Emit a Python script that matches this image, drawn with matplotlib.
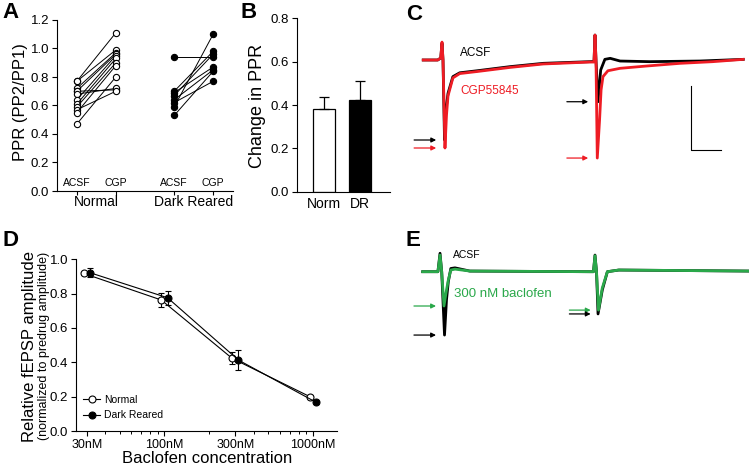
import numpy as np
import matplotlib
matplotlib.use("Agg")
import matplotlib.pyplot as plt
from matplotlib.lines import Line2D

plt.rcParams['font.family'] = ['Liberation Sans', 'DejaVu Sans']
plt.rcParams['axes.linewidth'] = 0.8
plt.rcParams['xtick.major.width'] = 0.8
plt.rcParams['ytick.major.width'] = 0.8

# ---- A: paired-pulse ratio, ACSF vs CGP55845 ----
norm_acsf = [0.77, 0.77, 0.72, 0.70, 0.70, 0.68, 0.64, 0.61, 0.59, 0.57, 0.55, 0.47]
norm_cgp = [1.11, 0.99, 0.97, 0.71, 0.96, 0.72, 0.95, 0.93, 0.90, 0.70, 0.88, 0.80]
dark_acsf = [0.94, 0.70, 0.69, 0.67, 0.64, 0.62, 0.59, 0.53]
dark_cgp = [0.94, 0.98, 0.87, 0.96, 0.85, 0.77, 1.10, 0.84]

# ---- B: change in PPR ----
b_groups = ['Norm', 'DR']
b_means = [0.38, 0.425]
b_sem = [0.058, 0.087]
b_colors = ['white', 'black']

# ---- D: baclofen dose response ----
conc_nm = [30, 100, 300, 1000]
conc_labels = ['30nM', '100nM', '300nM', '1000nM']
d_normal = [0.918, 0.763, 0.423, 0.200]
d_normal_err = [0.010, 0.040, 0.035, 0.012]
d_dark = [0.922, 0.776, 0.413, 0.167]
d_dark_err = [0.026, 0.040, 0.058, 0.008]

# ---- C / E: example fEPSP traces (time in ms, amplitude in mV) ----
c_t_black = [-26, -7, -3, -1.3, 0, 2.0, 3.9, 6.6, 13, 22, 45, 88, 132, 193, 198.7, 200, 201.3, 203.9, 207.5, 213, 220, 233, 272, 338, 395]
c_v_black = [0.0, 0.0, 0.015, 0.13, 0.0, -0.625, -0.39, -0.26, -0.13, -0.10, -0.084, -0.052, -0.026, -0.013, -0.012, 0.195, 0.0, -0.326, -0.078, 0.005, 0.013, -0.008, -0.013, -0.008, 0.005]
c_t_red = [-26, -7, -3, -1.3, 0, 2.6, 4.6, 6.6, 13, 22, 45, 88, 132, 193, 198.7, 200, 201.3, 203.0, 206, 208, 210.5, 217, 233, 268, 312, 355, 395]
c_v_red = [0.0, 0.0, 0.015, 0.14, 0.0, -0.6875, -0.43, -0.28, -0.14, -0.106, -0.09, -0.058, -0.031, -0.016, -0.016, 0.195, 0.0, -0.766, -0.47, -0.234, -0.13, -0.084, -0.065, -0.047, -0.026, -0.013, 0.005]

e_t_black = [-25, -5, -2.2, 0, 3.7, 6.3, 8.7, 12, 17.5, 37, 195, 199.7, 201.7, 203.7, 205.7, 211.3, 218, 233, 403]
e_v_black = [0.0, 0.0, 0.144, 0.0, -0.495, -0.22, -0.078, 0.025, 0.03, 0.005, 0.0, 0.0, 0.13, 0.0, -0.33, -0.143, 0.0, 0.013, 0.005]
e_t_green = [-25, -5, -2.2, 0, 3.0, 6.3, 8.7, 12, 17.5, 37, 195, 199.7, 201.7, 203.7, 206.3, 211.3, 218, 233, 403]
e_v_green = [0.0, 0.0, 0.13, 0.0, -0.268, -0.143, -0.065, 0.013, 0.02, 0.005, 0.0, 0.0, 0.125, 0.0, -0.30, -0.127, 0.0, 0.013, 0.005]

RED = '#ee1c24'
GREEN = '#2aa84a'

W, H = 749, 469
fig = plt.figure(figsize=(W / 100, H / 100), dpi=100)


def rect(left, top, right, bottom):
    # pixel box -> figure fraction
    return [left / W, 1 - bottom / H, (right - left) / W, (bottom - top) / H]


def ftext(x, y, s, **kw):
    fig.text(x / W, 1 - y / H, s, **kw)


def clean(ax):
    ax.spines['top'].set_visible(False)
    ax.spines['right'].set_visible(False)


# ---------- A ----------
axA = fig.add_axes(rect(57, 20, 233, 191))
clean(axA)
for a, c in zip(norm_acsf, norm_cgp):
    axA.plot([1, 2], [a, c], '-o', color='black', mfc='white', ms=4.5, mew=0.8, lw=0.7)
for a, c in zip(dark_acsf, dark_cgp):
    axA.plot([3.5, 4.5], [a, c], '-o', color='black', mfc='black', ms=4.5, mew=0.8, lw=0.7)
axA.set_xlim(0.49, 5.01)
axA.set_ylim(0, 1.2)
axA.set_yticks(np.arange(0, 1.21, 0.2))
axA.tick_params(axis='y', labelsize=9.5, length=3.5, pad=2)
axA.set_xticks([1, 2, 3.5, 4.5])
axA.set_xticklabels([])
axA.tick_params(axis='x', length=3)
for xp, lab in zip([1, 2, 3.5, 4.5], ['ACSF', 'CGP', 'ACSF', 'CGP']):
    axA.text(xp, 0.02, lab, fontsize=7.5, ha='center', va='bottom')
xtr = axA.get_xaxis_transform()
axA.text(1.5, -0.065, 'Normal', fontsize=10, ha='center', va='center', transform=xtr)
axA.text(4.0, -0.065, 'Dark Reared', fontsize=10, ha='center', va='center', transform=xtr)
ftext(20.5, 102, 'PPR (PP2/PP1)', fontsize=12, rotation=90, ha='center', va='center')

# ---------- B ----------
axB = fig.add_axes(rect(297, 18.3, 390, 191.7))
clean(axB)
xb = np.arange(len(b_groups))
axB.bar(xb, b_means, width=0.62, color=b_colors, edgecolor='black', lw=0.9,
        yerr=[np.zeros(len(b_sem)), b_sem], capsize=3.5,
        error_kw=dict(lw=0.9, capthick=0.9, ecolor='black'))
axB.set_xlim(-0.75, 1.83)
axB.set_ylim(0, 0.8)
axB.set_yticks(np.arange(0, 0.81, 0.2))
axB.tick_params(axis='y', labelsize=9.5, length=3.5, pad=2)
axB.set_xticks(xb)
axB.set_xticklabels(b_groups, fontsize=10)
axB.tick_params(axis='x', length=0, pad=4)
ftext(258, 106, 'Change in PPR', fontsize=13, rotation=90, ha='center', va='center')

# ---------- D ----------
axD = fig.add_axes(rect(76, 259.3, 337.3, 431))
clean(axD)
dodge = 1.05
cn = np.array(conc_nm, dtype=float)
style = dict(fmt='-o', color='black', ms=5, mew=0.8, lw=0.8, capsize=2.5,
             elinewidth=0.8, capthick=0.8)
axD.errorbar(cn / dodge, d_normal, yerr=d_normal_err, mfc='white', **style)
axD.errorbar(cn * dodge, d_dark, yerr=d_dark_err, mfc='black', **style)
axD.set_xscale('log')
axD.set_xlim(25.4, 1457)
axD.set_ylim(0, 1.0)
axD.set_xticks(conc_nm)
axD.set_xticklabels(conc_labels)
axD.xaxis.set_minor_formatter(matplotlib.ticker.NullFormatter())
axD.tick_params(axis='x', which='major', labelsize=9, length=3.5, pad=2)
axD.tick_params(axis='x', which='minor', length=2.2, width=0.7)
axD.set_yticks(np.arange(0, 1.01, 0.2))
axD.tick_params(axis='y', labelsize=9.5, length=3.5, pad=2)
axD.set_xlabel('Baclofen concentration', fontsize=12, labelpad=0)
handles = [Line2D([], [], color='black', marker='o', mfc='white', ms=5, mew=0.8, lw=0.8),
           Line2D([], [], color='black', marker='o', mfc='black', ms=5, mew=0.8, lw=0.8)]
axD.legend(handles, ['Normal', 'Dark Reared'], loc='lower left', bbox_to_anchor=(0.0, 0.02),
           frameon=False, fontsize=7.5, handlelength=1.6, handletextpad=0.4,
           labelspacing=0.5, borderaxespad=0.3)
ftext(29.5, 346, 'Relative fEPSP amplitude', fontsize=12, rotation=90, ha='center', va='center')
ftext(44.5, 346, '(normalized to predrug amplitude)', fontsize=9, rotation=90, ha='center', va='center')

# ---------- trace panels ----------
PX_PER_MS = 0.76
PX_PER_MV = 128.0


def trace_axes(left, top, right, bottom, t0_px, base_px):
    ax = fig.add_axes(rect(left, top, right, bottom))
    ax.set_xlim((left - t0_px) / PX_PER_MS, (right - t0_px) / PX_PER_MS)
    ax.set_ylim((base_px - bottom) / PX_PER_MV, (base_px - top) / PX_PER_MV)
    ax.axis('off')
    return ax


def peak_arrows(ax, t, v, color, starts):
    t = np.asarray(t)
    v = np.asarray(v)
    for (t_a, t_b), (lo, hi) in zip(starts, [(-50, 100), (100, 400)]):
        m = (t >= lo) & (t < hi)
        y = v[m].min()
        ax.annotate('', xy=(t_b, y), xytext=(t_a, y),
                    arrowprops=dict(arrowstyle='-|>', color=color, lw=0.9,
                                    mutation_scale=7, shrinkA=0, shrinkB=0))


# C
axC = trace_axes(400, 30, 749, 170, 443, 60)
axC.plot(c_t_black, c_v_black, color='black', lw=2.0)
axC.plot(c_t_red, c_v_red, color=RED, lw=2.0)
arrow_pos_c = [(-38, -9), (163, 191)]
peak_arrows(axC, c_t_black, c_v_black, 'black', arrow_pos_c)
peak_arrows(axC, c_t_red, c_v_red, RED, arrow_pos_c)
# scale bar: 40 ms, 0.5 mV
axC.plot([326, 326, 366], [-0.203, -0.703, -0.703], color='black', lw=0.8)
ftext(460, 53, 'ACSF', fontsize=8.5, ha='left', va='center')
ftext(460, 91, 'CGP55845', fontsize=8.5, ha='left', va='center', color=RED)

# E
axE = trace_axes(400, 240, 749, 350, 441.7, 271.7)
axE.plot(e_t_black, e_v_black, color='black', lw=2.0)
axE.plot(e_t_green, e_v_green, color=GREEN, lw=2.0)
arrow_pos_e = [(-36.5, -7.5), (168, 196)]
peak_arrows(axE, e_t_green, e_v_green, GREEN, arrow_pos_e)
peak_arrows(axE, e_t_black, e_v_black, 'black', arrow_pos_e)
ftext(453, 255, 'ACSF', fontsize=7.5, ha='left', va='center')
ftext(454, 294, '300 nM baclofen', fontsize=9.5, ha='left', va='center', color=GREEN)

# panel letters
for x, y, s in [(2, 13, 'A'), (240, 13, 'B'), (406, 14, 'C'), (3, 241, 'D'), (406, 241, 'E')]:
    ftext(x, y, s, fontsize=16, fontweight='bold', ha='left', va='center')

fig.savefig('out.png', dpi=100)
